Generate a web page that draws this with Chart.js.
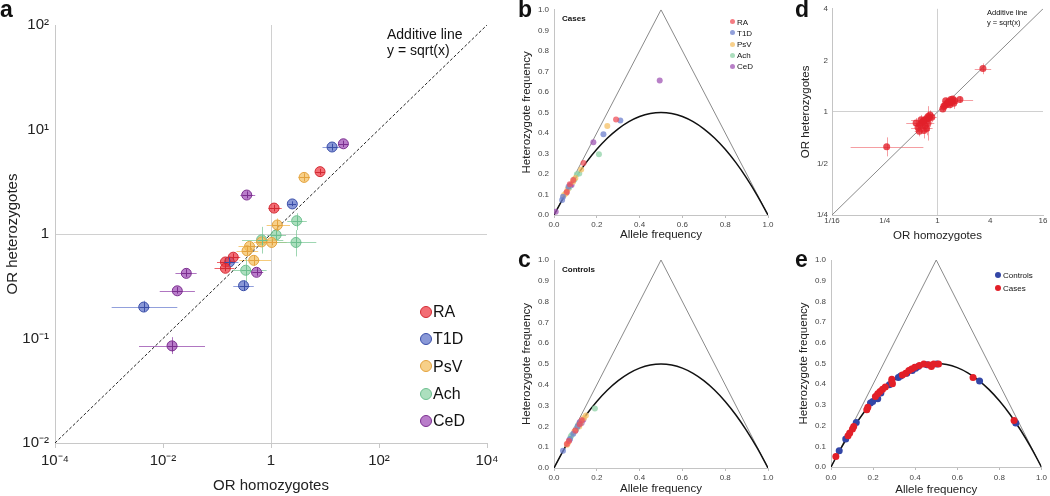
<!DOCTYPE html>
<html>
<head>
<meta charset="utf-8">
<script src="https://cdn.jsdelivr.net/npm/chart.js@4.4.1/dist/chart.umd.min.js"></script>
<style>
body { margin:0; width:1050px; height:496px; position:relative; overflow:hidden; background:#fff;
  font-family:"Liberation Sans", Arial, Helvetica, sans-serif; color:#111; }
canvas { position:absolute; }
.letter { position:absolute; font-weight:bold; font-size:23px; line-height:23px; }
.txt { position:absolute; white-space:nowrap; }
.dot { display:inline-block; border-radius:50%; box-sizing:border-box; vertical-align:middle; }
</style>
</head>
<body>
<canvas id="ca" width="505" height="496" style="left:0;top:0"></canvas>
<canvas id="cb" width="275" height="248" style="left:505px;top:0"></canvas>
<canvas id="cc" width="275" height="246" style="left:505px;top:250px"></canvas>
<canvas id="cd" width="270" height="250" style="left:780px;top:0"></canvas>
<canvas id="ce" width="270" height="246" style="left:780px;top:250px"></canvas>

<div class="letter" style="left:0;top:-2px">a</div>
<div class="letter" style="left:518px;top:-2px">b</div>
<div class="letter" style="left:518px;top:248px">c</div>
<div class="letter" style="left:795px;top:-2px">d</div>
<div class="letter" style="left:795px;top:248px">e</div>

<div class="txt" style="left:387px;top:26px;font-size:14px;line-height:16px">Additive line<br>y = sqrt(x)</div>
<div id="legA"></div>

<div class="txt" style="left:562px;top:14px;font-size:8px;font-weight:bold">Cases</div>
<div id="legB"></div>
<div class="txt" style="left:562px;top:265px;font-size:8px;font-weight:bold">Controls</div>

<div class="txt" style="left:987px;top:8px;font-size:7.5px;line-height:10px">Additive line<br>y = sqrt(x)</div>
<div id="legE"></div>

<script>
// ---- panel a: OR homozygotes vs OR heterozygotes (5 diseases)
const groups = ['RA', 'T1D', 'PsV', 'Ach', 'CeD'];
const aGroup = ['T1D','CeD','RA','PsV','CeD','RA','T1D','Ach','PsV','Ach','Ach','PsV','PsV','Ach','PsV','PsV','PsV','RA','RA','T1D','RA','Ach','CeD','CeD','T1D','CeD','T1D','CeD'];
const aHom   = [13.5, 21.9, 8.1, 4.1, 0.355, 1.14, 2.48, 2.99, 1.31, 1.24, 0.67, 0.67, 1.03, 2.9, 0.40, 0.36, 0.48, 0.20, 0.143, 0.17, 0.143, 0.34, 0.54, 0.027, 0.31, 0.0184, 0.0044, 0.0147];
const aHet   = [6.8, 7.3, 3.95, 3.48, 2.36, 1.77, 1.94, 1.34, 1.22, 0.98, 0.88, 0.84, 0.83, 0.83, 0.76, 0.69, 0.56, 0.60, 0.54, 0.54, 0.47, 0.45, 0.43, 0.42, 0.32, 0.286, 0.20, 0.085];
const aHomLo = [9, 18, 6.5, 3.2, 0.27, 0.89, 2.1, 2.0, 0.83, 0.85, 0.29, 0.48, 0.67, 1.27, 0.25, 0.23, 0.26, 0.15, 0.10, 0.123, 0.09, 0.19, 0.43, 0.017, 0.2, 0.0087, 0.00112, 0.0036];
const aHomHi = [20, 27, 10, 5.3, 0.51, 1.58, 2.9, 4.6, 2.25, 1.9, 1.69, 0.95, 1.95, 6.9, 0.63, 0.58, 1.0, 0.27, 0.20, 0.25, 0.21, 0.83, 0.72, 0.042, 0.48, 0.039, 0.0184, 0.06];
const aHetLo = [6.3, 6.8, 3.7, 3.2, 2.2, 1.65, 1.85, 1.09, 1.05, 0.88, 0.65, 0.78, 0.78, 0.61, 0.70, 0.63, 0.50, 0.56, 0.50, 0.50, 0.44, 0.35, 0.40, 0.39, 0.29, 0.27, 0.18, 0.071];
const aHetHi = [7.3, 7.8, 4.2, 3.8, 2.55, 1.9, 2.05, 1.58, 1.41, 1.12, 1.17, 0.9, 0.9, 1.09, 0.83, 0.75, 0.63, 0.65, 0.59, 0.60, 0.50, 0.58, 0.47, 0.46, 0.36, 0.31, 0.23, 0.103];
const aXTicks = [1e-4, 1e-2, 1, 1e2, 1e4];
const aXLabels = ['10\u207B\u2074', '10\u207B\u00B2', '1', '10\u00B2', '10\u2074'];
const aYTicks = [1e-2, 1e-1, 1, 1e1, 1e2];
const aYLabels = ['10\u207B\u00B2', '10\u207B\u00B9', '1', '10\u00B9', '10\u00B2'];
const aLineX = [1e-4, 1e4];
const aLineY = [1e-2, 1e2];

// ---- panels b, c: heterozygote frequency vs allele frequency
const bGroup = ['RA','RA','RA','RA','RA','T1D','T1D','T1D','T1D','T1D','PsV','PsV','PsV','PsV','PsV','PsV','PsV','Ach','Ach','Ach','Ach','Ach','CeD','CeD','CeD','CeD','CeD','CeD'];
const bFreq = [0.29, 0.138, 0.074, 0.06, 0.09, 0.31, 0.231, 0.042, 0.038, 0.068, 0.249, 0.127, 0.089, 0.064, 0.047, 0.1, 0.055, 0.21, 0.118, 0.107, 0.071, 0.095, 0.494, 0.184, 0.082, 0.058, 0.008, 0.076];
const bHet  = [0.465, 0.254, 0.15, 0.112, 0.17, 0.46, 0.393, 0.089, 0.073, 0.138, 0.434, 0.222, 0.162, 0.125, 0.097, 0.18, 0.105, 0.296, 0.202, 0.199, 0.133, 0.172, 0.655, 0.354, 0.146, 0.108, 0.016, 0.145];
const cGroup = ['RA','RA','RA','RA','RA','T1D','T1D','T1D','T1D','T1D','PsV','PsV','PsV','PsV','PsV','PsV','PsV','Ach','Ach','Ach','Ach','Ach','CeD','CeD','CeD','CeD','CeD','CeD'];
const cFreq = [0.12, 0.1, 0.07, 0.13, 0.06, 0.042, 0.09, 0.11, 0.075, 0.12, 0.149, 0.118, 0.061, 0.14, 0.095, 0.065, 0.125, 0.191, 0.082, 0.105, 0.078, 0.112, 0.137, 0.129, 0.102, 0.071, 0.099, 0.12];
const cHet  = [0.21, 0.18, 0.13, 0.23, 0.115, 0.083, 0.165, 0.2, 0.14, 0.215, 0.253, 0.2, 0.112, 0.24, 0.175, 0.12, 0.218, 0.286, 0.157, 0.19, 0.15, 0.205, 0.232, 0.216, 0.184, 0.133, 0.178, 0.22];

// reference lines (triangle and Hardy-Weinberg curve)
const triFreq = [0, 0.5, 1];
const triHet  = [0, 1, 0];
const hweFreq = [0, 0.05, 0.1, 0.15, 0.2, 0.25, 0.3, 0.35, 0.4, 0.45, 0.5, 0.55, 0.6, 0.65, 0.7, 0.75, 0.8, 0.85, 0.9, 0.95, 1];
const hweHet  = [0, 0.095, 0.18, 0.255, 0.32, 0.375, 0.42, 0.455, 0.48, 0.495, 0.5, 0.495, 0.48, 0.455, 0.42, 0.375, 0.32, 0.255, 0.18, 0.095, 0];
const freqXTicks = [0, 0.2, 0.4, 0.6, 0.8, 1];
const freqXLabels = ['0.0', '0.2', '0.4', '0.6', '0.8', '1.0'];
const freqYTicks = [0, 0.1, 0.2, 0.3, 0.4, 0.5, 0.6, 0.7, 0.8, 0.9, 1];
const freqYLabels = ['0.0', '0.1', '0.2', '0.3', '0.4', '0.5', '0.6', '0.7', '0.8', '0.9', '1.0'];

// ---- panel d: RA, OR homozygotes vs OR heterozygotes
const dHom   = [3.3, 1.8, 1.53, 0.263, 1.15, 1.21, 1.28, 1.35, 1.42, 1.49, 1.57, 1.24, 1.38, 1.30, 1.45, 1.18, 0.60, 0.63, 0.66, 0.70, 0.74, 0.78, 0.82, 0.86, 0.72, 0.78, 0.65, 0.57, 0.70, 0.75, 0.68, 0.80, 0.62];
const dHet   = [1.79, 1.18, 1.125, 0.625, 1.04, 1.09, 1.11, 1.15, 1.18, 1.19, 1.16, 1.16, 1.10, 1.13, 1.14, 1.08, 0.81, 0.84, 0.86, 0.89, 0.91, 0.94, 0.96, 0.93, 0.83, 0.86, 0.90, 0.86, 0.78, 0.80, 0.88, 0.92, 0.77];
const dHomLo = [2.66, 1.44, 1.38, 0.102, 1.05, 1.1, 1.17, 1.22, 1.3, 1.36, 1.44, 1.13, 1.26, 1.19, 1.32, 1.07, 0.5, 0.54, 0.56, 0.6, 0.64, 0.68, 0.72, 0.76, 0.62, 0.66, 0.5, 0.44, 0.6, 0.64, 0.58, 0.7, 0.55];
const dHomHi = [4.1, 2.55, 1.7, 0.69, 1.26, 1.33, 1.4, 1.49, 1.55, 1.63, 1.7, 1.36, 1.51, 1.42, 1.58, 1.3, 0.72, 0.74, 0.78, 0.82, 0.86, 0.9, 0.94, 0.98, 0.84, 0.92, 0.85, 0.72, 0.82, 0.88, 0.8, 0.92, 0.7];
const dHetLo = [1.66, 1.13, 1.04, 0.55, 1.0, 1.04, 1.06, 1.1, 1.13, 1.14, 1.11, 1.11, 1.05, 1.08, 1.09, 1.03, 0.76, 0.79, 0.8, 0.83, 0.85, 0.88, 0.9, 0.87, 0.76, 0.68, 0.84, 0.8, 0.7, 0.73, 0.82, 0.86, 0.72];
const dHetHi = [1.92, 1.23, 1.22, 0.71, 1.08, 1.14, 1.16, 1.2, 1.23, 1.24, 1.21, 1.21, 1.15, 1.18, 1.19, 1.13, 0.86, 0.89, 0.92, 0.95, 0.97, 1.0, 1.02, 0.99, 0.91, 1.08, 0.96, 0.92, 0.87, 0.88, 0.94, 0.98, 0.82];
const dXTicks = [1/16, 1/4, 1, 4, 16];
const dXLabels = ['1/16', '1/4', '1', '4', '16'];
const dYTicks = [1/4, 1/2, 1, 2, 4];
const dYLabels = ['1/4', '1/2', '1', '2', '4'];
const dLineX = [1/16, 16];
const dLineY = [1/4, 4];

// ---- panel e: controls vs cases
const eCtrlFreq = [0.039, 0.07, 0.12, 0.1875, 0.198, 0.222, 0.237, 0.277, 0.32, 0.331, 0.36, 0.386, 0.402, 0.414, 0.456, 0.503, 0.706, 0.878];
const eCtrlHet  = [0.079, 0.135, 0.215, 0.309, 0.317, 0.33, 0.357, 0.397, 0.432, 0.44, 0.453, 0.466, 0.477, 0.486, 0.494, 0.498, 0.416, 0.212];
const eCaseFreq = [0.023, 0.081, 0.089, 0.102, 0.108, 0.17, 0.175, 0.211, 0.222, 0.233, 0.245, 0.258, 0.289, 0.289, 0.292, 0.339, 0.355, 0.37, 0.383, 0.398, 0.42, 0.441, 0.464, 0.477, 0.488, 0.511, 0.675, 0.87];
const eCaseHet  = [0.051, 0.151, 0.164, 0.183, 0.196, 0.276, 0.289, 0.341, 0.354, 0.365, 0.376, 0.386, 0.413, 0.424, 0.402, 0.444, 0.453, 0.466, 0.474, 0.482, 0.49, 0.498, 0.494, 0.486, 0.497, 0.498, 0.432, 0.225];

// colours
const col = {
  RA:  { fill: 'rgba(238,52,62,0.72)',  line: '#d22a33', err: 'rgba(232,45,55,0.75)' },
  T1D: { fill: 'rgba(92,112,200,0.72)', line: '#3a4ea8', err: 'rgba(100,120,205,0.7)' },
  PsV: { fill: 'rgba(244,190,92,0.72)', line: '#e3a23e', err: 'rgba(242,185,80,0.75)' },
  Ach: { fill: 'rgba(140,210,165,0.72)', line: '#6dbf8f', err: 'rgba(125,200,152,0.75)' },
  CeD: { fill: 'rgba(162,82,184,0.75)', line: '#7b2f8f', err: 'rgba(150,72,172,0.75)' }
};
const bcFill = {
  RA: 'rgba(240,80,90,0.75)', T1D: 'rgba(110,128,205,0.75)', PsV: 'rgba(245,192,100,0.75)',
  Ach: 'rgba(150,212,172,0.8)', CeD: 'rgba(160,85,180,0.75)'
};

Chart.defaults.font.family = '"Liberation Sans", Arial, Helvetica, sans-serif';
Chart.defaults.color = '#333';
Chart.defaults.animation = false;
Chart.defaults.plugins.legend.display = false;
Chart.defaults.plugins.tooltip.enabled = false;

function pick(arr, g, val) {
  const out = [];
  arr.forEach((v, i) => { if (v === g) out.push(i); });
  return out;
}

// error bars under points, little cross inside each circle on top
const errorBars = {
  id: 'errorBars',
  beforeDatasetsDraw(chart) {
    const { ctx, scales: { x, y } } = chart;
    chart.data.datasets.forEach(ds => {
      if (!ds.err) return;
      ctx.save();
      ctx.strokeStyle = ds.errColor;
      ctx.lineWidth = 1;
      ds.data.forEach((p, j) => {
        const e = ds.err[j];
        const px = Math.round(x.getPixelForValue(p.x)) + 0.5;
        const py = Math.round(y.getPixelForValue(p.y)) + 0.5;
        ctx.beginPath();
        ctx.moveTo(x.getPixelForValue(e[0]), py);
        ctx.lineTo(x.getPixelForValue(e[1]), py);
        ctx.moveTo(px, y.getPixelForValue(e[2]));
        ctx.lineTo(px, y.getPixelForValue(e[3]));
        ctx.stroke();
      });
      ctx.restore();
    });
  },
  afterDatasetsDraw(chart) {
    const { ctx, scales: { x, y } } = chart;
    chart.data.datasets.forEach(ds => {
      if (!ds.crossColor) return;
      const r = ds.pointRadius;
      ctx.save();
      ctx.strokeStyle = ds.crossColor;
      ctx.lineWidth = 1;
      ds.data.forEach((p, j) => {
        const e = ds.err[j];
        const px = Math.round(x.getPixelForValue(p.x)) + 0.5;
        const py = Math.round(y.getPixelForValue(p.y)) + 0.5;
        ctx.beginPath();
        ctx.moveTo(Math.max(x.getPixelForValue(e[0]), px - r), py);
        ctx.lineTo(Math.min(x.getPixelForValue(e[1]), px + r), py);
        ctx.moveTo(px, Math.min(y.getPixelForValue(e[2]), py + r));
        ctx.lineTo(px, Math.max(y.getPixelForValue(e[3]), py - r));
        ctx.stroke();
      });
      ctx.restore();
    });
  }
};

function setTicks(vals) {
  return s => { s.ticks = vals.map(v => ({ value: v })); };
}
const onlyOne = c => (c.tick && c.tick.value === 1) ? '#d0d0d0' : 'rgba(0,0,0,0)';

// ---------- panel a
const aDatasets = groups.map(g => {
  const idx = pick(aGroup, g);
  return {
    label: g,
    data: idx.map(i => ({ x: aHom[i], y: aHet[i] })),
    err: idx.map(i => [aHomLo[i], aHomHi[i], aHetLo[i], aHetHi[i]]),
    backgroundColor: col[g].fill,
    borderColor: col[g].line,
    borderWidth: 1,
    pointRadius: 5,
    errColor: col[g].err,
    crossColor: col[g].line
  };
});
aDatasets.push({
  type: 'line', label: 'Additive line',
  data: aLineX.map((v, i) => ({ x: v, y: aLineY[i] })),
  borderColor: '#222', borderWidth: 1, borderDash: [3, 2], pointRadius: 0, order: 10
});

new Chart(document.getElementById('ca'), {
  type: 'scatter',
  data: { datasets: aDatasets },
  options: {
    responsive: false,
    layout: { padding: { top: 25, right: 18, left: 0, bottom: 0 } },
    scales: {
      x: {
        type: 'logarithmic', min: 1e-4, max: 1e4,
        afterBuildTicks: setTicks(aXTicks),
        afterFit: s => { s.height = 53; },
        ticks: { callback: (v, i) => aXLabels[i], font: { size: 15 }, color: '#222', padding: 4, maxRotation: 0, autoSkip: false },
        grid: { color: onlyOne, tickColor: '#c8c8c8', tickLength: 5 },
        border: { color: '#c8c8c8' },
        title: { display: true, text: 'OR homozygotes', color: '#222', font: { size: 15, lineHeight: 1 }, padding: { top: 0, bottom: 3 } }
      },
      y: {
        type: 'logarithmic', min: 1e-2, max: 1e2,
        afterBuildTicks: setTicks(aYTicks),
        afterFit: s => { s.width = 55; },
        ticks: { callback: (v, i) => aYLabels[i], font: { size: 15 }, color: '#222', padding: 6, autoSkip: false },
        grid: { color: onlyOne, drawTicks: false },
        border: { color: '#c8c8c8' },
        title: { display: true, text: 'OR heterozygotes', color: '#222', font: { size: 15, lineHeight: 1 }, padding: { top: 5, bottom: 0 } }
      }
    }
  },
  plugins: [errorBars]
});

// ---------- panels b, c, e share the frequency axes
function freqOptions(yw, xh, pad, xTitlePad, tickPad) {
  return {
    responsive: false,
    layout: { padding: pad },
    scales: {
      x: {
        type: 'linear', min: 0, max: 1,
        afterBuildTicks: setTicks(freqXTicks),
        afterFit: s => { s.height = xh; },
        ticks: { callback: (v, i) => freqXLabels[i], font: { size: 8 }, color: '#444', padding: tickPad, maxRotation: 0 },
        grid: { drawOnChartArea: false, tickColor: '#bbb', tickLength: 3 },
        border: { color: '#c4c4c4' },
        title: { display: true, text: 'Allele frequency', color: '#222', font: { size: 11.5, lineHeight: 1 }, padding: { top: 0, bottom: xTitlePad } }
      },
      y: {
        type: 'linear', min: 0, max: 1,
        afterBuildTicks: setTicks(freqYTicks),
        afterFit: s => { s.width = yw; },
        ticks: { callback: (v, i) => freqYLabels[i], font: { size: 8 }, color: '#444', padding: 5, autoSkip: false },
        grid: { drawOnChartArea: false, drawTicks: false },
        border: { color: '#c4c4c4' },
        title: { display: true, text: 'Heterozygote frequency', color: '#222', font: { size: 11.5, lineHeight: 1 }, padding: { top: yw - 33, bottom: 0 } }
      }
    }
  };
}

function refLines() {
  return [
    { type: 'line', data: hweFreq.map((v, i) => ({ x: v, y: hweHet[i] })), borderColor: '#111', borderWidth: 1.5, pointRadius: 0, tension: 0.4, order: 10 },
    { type: 'line', data: triFreq.map((v, i) => ({ x: v, y: triHet[i] })), borderColor: '#8a8a8a', borderWidth: 1, pointRadius: 0, tension: 0, order: 11 }
  ];
}

function groupDots(gArr, fArr, hArr) {
  return groups.map(g => {
    const idx = pick(gArr, g);
    return {
      label: g,
      data: idx.map(i => ({ x: fArr[i], y: hArr[i] })),
      backgroundColor: bcFill[g], borderColor: bcFill[g], borderWidth: 0, pointRadius: 3
    };
  });
}

new Chart(document.getElementById('cb'), {
  type: 'scatter',
  data: { datasets: groupDots(bGroup, bFreq, bHet).concat(refLines()) },
  options: freqOptions(49, 33, { top: 9, right: 12, left: 0, bottom: 0 }, 7, 2)
});

new Chart(document.getElementById('cc'), {
  type: 'scatter',
  data: { datasets: groupDots(cGroup, cFreq, cHet).concat(refLines()) },
  options: freqOptions(49, 28, { top: 10, right: 12, left: 0, bottom: 0 }, 1, 2)
});

// ---------- panel d
new Chart(document.getElementById('cd'), {
  type: 'scatter',
  data: {
    datasets: [
      {
        label: 'RA',
        data: dHom.map((v, i) => ({ x: v, y: dHet[i] })),
        err: dHom.map((v, i) => [dHomLo[i], dHomHi[i], dHetLo[i], dHetHi[i]]),
        errColor: 'rgba(232,40,48,0.45)',
        backgroundColor: 'rgba(226,32,42,0.8)', borderWidth: 0, pointRadius: 3.5
      },
      {
        type: 'line', data: dLineX.map((v, i) => ({ x: v, y: dLineY[i] })),
        borderColor: '#8a8a8a', borderWidth: 1, pointRadius: 0, order: 10
      }
    ]
  },
  options: {
    responsive: false,
    layout: { padding: { top: 7, right: 7, left: 0, bottom: 0 } },
    scales: {
      x: {
        type: 'logarithmic', min: 1 / 16, max: 16,
        afterBuildTicks: setTicks(dXTicks),
        afterFit: s => { s.height = 35; },
        ticks: { callback: (v, i) => dXLabels[i], font: { size: 8 }, color: '#444', padding: 1, maxRotation: 0, autoSkip: false },
        grid: { color: onlyOne, drawTicks: false },
        border: { color: '#c4c4c4' },
        title: { display: true, text: 'OR homozygotes', color: '#222', font: { size: 11.5, lineHeight: 1 }, padding: { top: 0, bottom: 8 } }
      },
      y: {
        type: 'logarithmic', min: 1 / 4, max: 4,
        afterBuildTicks: setTicks(dYTicks),
        afterFit: s => { s.width = 52; },
        ticks: { callback: (v, i) => dYLabels[i], font: { size: 8 }, color: '#444', padding: 4, autoSkip: false },
        grid: { color: onlyOne, drawTicks: false },
        border: { color: '#c4c4c4' },
        title: { display: true, text: 'OR heterozygotes', color: '#222', font: { size: 11.5, lineHeight: 1 }, padding: { top: 20, bottom: 0 } }
      }
    }
  },
  plugins: [errorBars]
});

// ---------- panel e
new Chart(document.getElementById('ce'), {
  type: 'scatter',
  data: {
    datasets: [
      { label: 'Cases', data: eCaseFreq.map((v, i) => ({ x: v, y: eCaseHet[i] })), backgroundColor: '#e21f28', borderWidth: 0, pointRadius: 3.5 },
      { label: 'Controls', data: eCtrlFreq.map((v, i) => ({ x: v, y: eCtrlHet[i] })), backgroundColor: '#3346a6', borderWidth: 0, pointRadius: 3.5 }
    ].concat(refLines())
  },
  options: freqOptions(51, 29, { top: 10, right: 6, left: 0, bottom: 0 }, 0.25, 3)
});

// ---------- legends (html)
function legend(el, items, opt) {
  const box = document.getElementById(el);
  items.forEach((it, k) => {
    const d = document.createElement('div');
    d.className = 'txt';
    d.style.left = opt.x + 'px';
    d.style.top = (opt.y + k * opt.step - opt.size / 2) + 'px';
    d.style.fontSize = opt.font + 'px';
    d.style.lineHeight = opt.size + 'px';
    d.innerHTML = '<span class="dot" style="width:' + opt.dot + 'px;height:' + opt.dot + 'px;background:' +
      it.fill + ';border:' + opt.bw + 'px solid ' + it.line + ';margin-right:' + opt.gap + 'px;position:relative;top:-1px"></span>' + it.text;
    box.appendChild(d);
  });
}
legend('legA', groups.map(g => ({ text: g, fill: col[g].fill, line: col[g].line })),
  { x: 420, y: 312, step: 27.3, font: 16, size: 18, dot: 12, bw: 1, gap: 1 });
legend('legB', groups.map(g => ({ text: g, fill: bcFill[g], line: bcFill[g] })),
  { x: 730, y: 23, step: 11.1, font: 8, size: 10, dot: 5, bw: 0, gap: 2 });
legend('legE', [{ text: 'Controls', fill: '#3346a6', line: '#3346a6' }, { text: 'Cases', fill: '#e21f28', line: '#e21f28' }],
  { x: 995, y: 276, step: 13.3, font: 8, size: 10, dot: 6, bw: 0, gap: 2 });
</script>
</body>
</html>
